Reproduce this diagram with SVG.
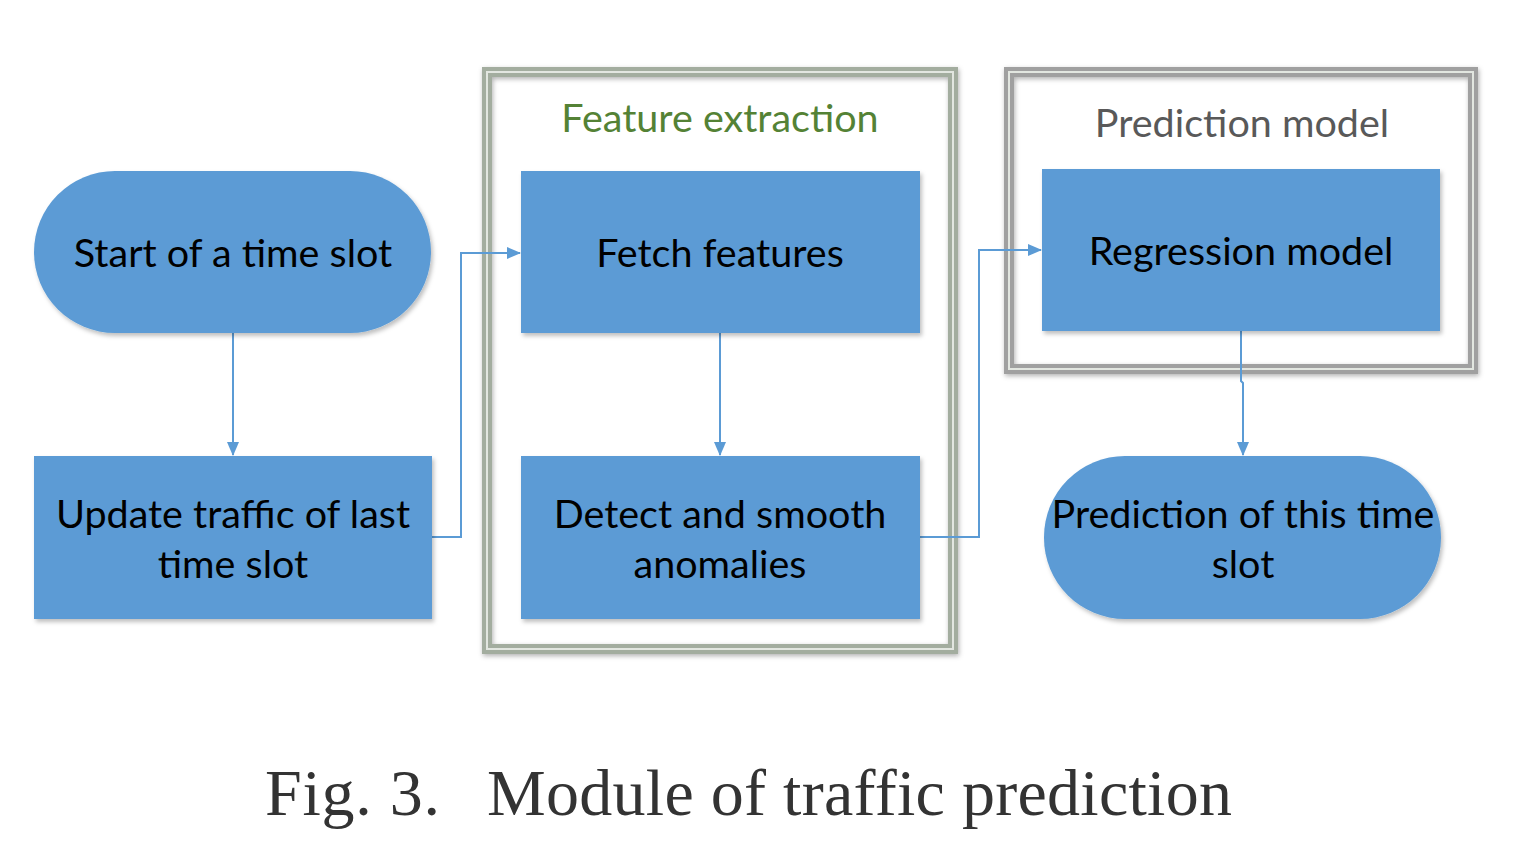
<svg xmlns="http://www.w3.org/2000/svg" width="1540" height="862" viewBox="0 0 1540 862">
<style>
.node{fill:#5B9BD5;filter:url(#sh)}
.lbl{font-family:Lato,"Open Sans",sans-serif;font-size:39.5px;fill:#000;text-anchor:middle}
.conn{fill:none;stroke:#5B9BD5;stroke-width:2}
.frameG{fill:none;stroke:#A3AD9F;stroke-width:10}
.frameP{fill:none;stroke:#A0A0A0;stroke-width:10}
.inner{fill:none;stroke:#E2E6E0;stroke-width:2}
</style>
<defs>
<filter id="sh" x="-5%" y="-5%" width="112%" height="115%">
<feDropShadow dx="2" dy="3" stdDeviation="2" flood-color="#000" flood-opacity="0.25"/>
</filter>
<filter id="fsh" x="-5%" y="-5%" width="110%" height="110%">
<feDropShadow dx="1" dy="2" stdDeviation="2.5" flood-color="#000" flood-opacity="0.3"/>
</filter>
<marker id="ah" markerWidth="14" markerHeight="12" refX="13" refY="6" orient="auto" markerUnits="userSpaceOnUse">
<path d="M0,0 L14,6 L0,12 Z" fill="#5B9BD5"/>
</marker>
</defs>
<rect width="1540" height="862" fill="#fff"/>
<g id="group-feature">
<rect x="487" y="72" width="466" height="577" class="frameG" filter="url(#fsh)"/>
<rect x="487" y="72" width="466" height="577" class="inner"/>
<text x="720" y="132" font-family="Lato,'Open Sans',sans-serif" font-size="39.5" fill="#548235" text-anchor="middle">Feature extraction</text>
</g>
<g id="group-prediction">
<rect x="1009" y="72" width="464" height="297" class="frameP" filter="url(#fsh)"/>
<rect x="1009" y="72" width="464" height="297" class="inner"/>
<text x="1242" y="137" font-family="Lato,'Open Sans',sans-serif" font-size="39.5" fill="#595959" text-anchor="middle">Prediction model</text>
</g>
<g id="connectors">
<path class="conn" d="M233,333 L233,455" marker-end="url(#ah)"/>
<path class="conn" d="M432,537 L461,537 L461,253 L520,253" marker-end="url(#ah)"/>
<path class="conn" d="M720,333 L720,455" marker-end="url(#ah)"/>
<path class="conn" d="M920,537 L979,537 L979,250 L1041,250" marker-end="url(#ah)"/>
<path class="conn" d="M1241,331 L1241,381 L1243,383 L1243,455" marker-end="url(#ah)"/>
</g>
<g id="node-start">
<rect x="34" y="171" width="397" height="162" rx="81" class="node"/>
<text x="233" y="267" class="lbl">Start of a time slot</text>
</g>
<g id="node-update">
<rect x="34" y="456" width="398" height="163" class="node"/>
<text x="233" y="528" class="lbl">Update traffic of last</text>
<text x="233" y="578" class="lbl">time slot</text>
</g>
<g id="node-fetch">
<rect x="521" y="171" width="399" height="162" class="node"/>
<text x="720" y="267" class="lbl">Fetch features</text>
</g>
<g id="node-detect">
<rect x="521" y="456" width="399" height="163" class="node"/>
<text x="720" y="528" class="lbl">Detect and smooth</text>
<text x="720" y="578" class="lbl">anomalies</text>
</g>
<g id="node-regression">
<rect x="1042" y="169" width="398" height="162" class="node"/>
<text x="1241" y="265" class="lbl">Regression model</text>
</g>
<g id="node-output">
<rect x="1044" y="456" width="397" height="163" rx="81" class="node"/>
<text x="1243" y="528" class="lbl">Prediction of this time</text>
<text x="1243" y="578" class="lbl">slot</text>
</g>
<g font-family="'Liberation Serif',serif" font-size="66" fill="#333">
<text x="265" y="815" textLength="175" lengthAdjust="spacing">Fig. 3.</text>
<text x="487" y="815" textLength="745" lengthAdjust="spacing">Module of traffic prediction</text>
</g>
</svg>
